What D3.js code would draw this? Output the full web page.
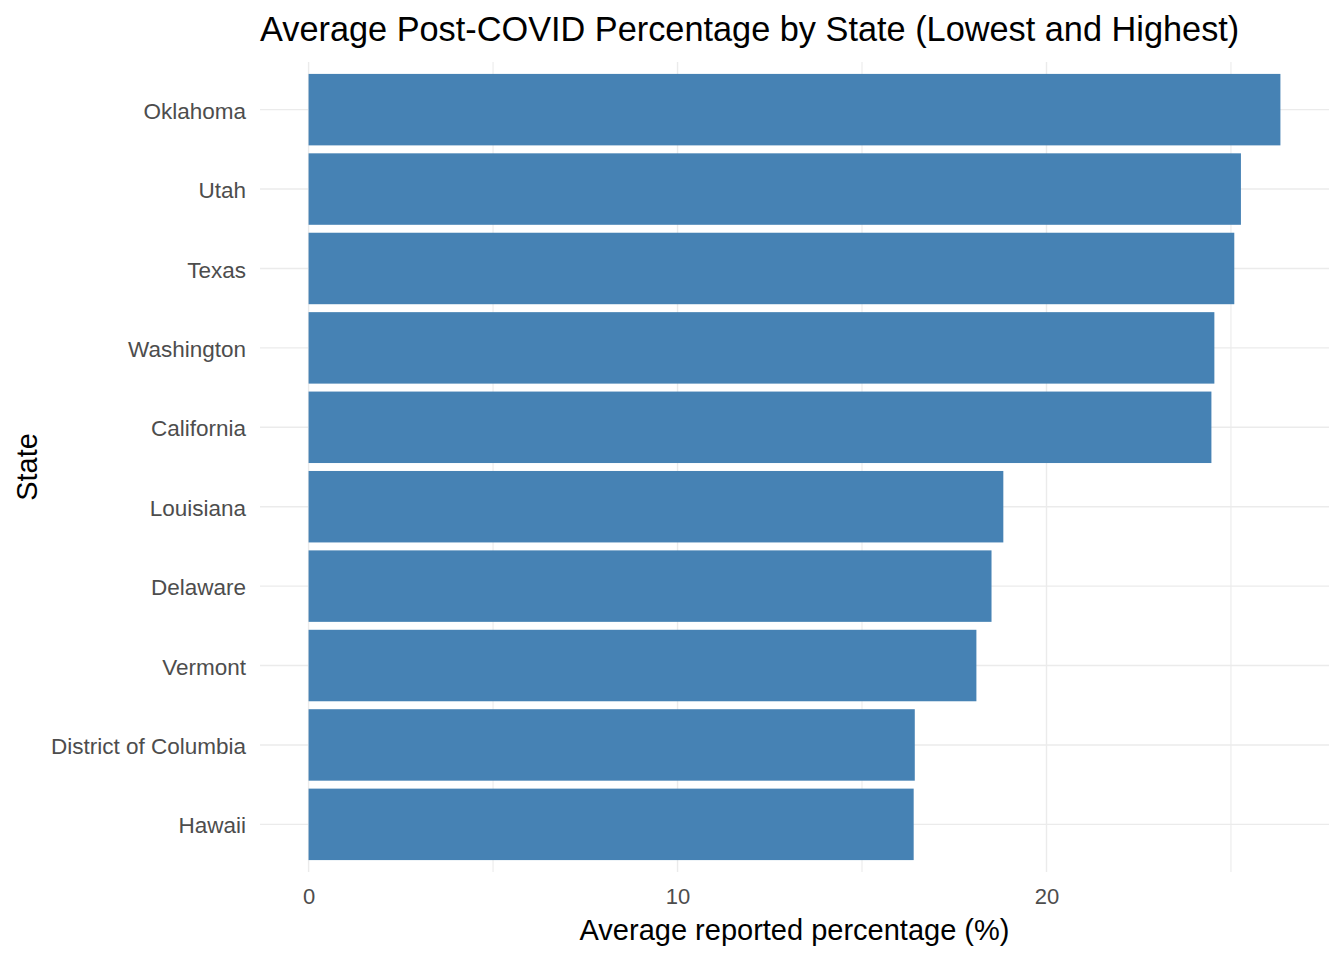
<!DOCTYPE html>
<html>
<head>
<meta charset="utf-8">
<script src="https://cdn.jsdelivr.net/npm/d3@7"></script>
<style>
  body { margin: 0; background: #fff; }
  text { font-family: "Liberation Sans", Arial, sans-serif; }
</style>
</head>
<body>
<svg id="chart"></svg>
<script>
// post-covid averages, highest first
var states = ["Oklahoma", "Utah", "Texas", "Washington", "California",
              "Louisiana", "Delaware", "Vermont", "District of Columbia", "Hawaii"];
var values = [26.34, 25.27, 25.09, 24.55, 24.47, 18.83, 18.51, 18.10, 16.43, 16.40];
var majorTicks = [0, 10, 20];
var minorTicks = [5, 15, 25];

var width = 1344, height = 960;
var margin = {top: 62, right: 15, bottom: 88, left: 260};

var chart = d3.select("#chart").attr("width", width).attr("height", height);

var xmax = d3.max(values);
var xscale = d3.scaleLinear()
    .domain([-0.05 * xmax, xmax * 1.05])
    .range([margin.left, width - margin.right]);

var n = states.length;
// discrete scale with 0.6 expansion on both sides, like ggplot
var step = (height - margin.top - margin.bottom) / (n - 1 + 1.2);
var yscale = d3.scalePoint()
    .domain(states)
    .range([margin.top + 0.6 * step, height - margin.bottom - 0.6 * step]);
var barH = step * 0.9;

var grid = chart.append("g");
grid.selectAll(".minor").data(minorTicks).enter().append("line")
    .attr("x1", d => xscale(d)).attr("x2", d => xscale(d))
    .attr("y1", margin.top).attr("y2", height - margin.bottom)
    .attr("stroke", "#ebebeb").attr("stroke-width", 1.1);
grid.selectAll(".major").data(majorTicks).enter().append("line")
    .attr("x1", d => xscale(d)).attr("x2", d => xscale(d))
    .attr("y1", margin.top).attr("y2", height - margin.bottom)
    .attr("stroke", "#ebebeb").attr("stroke-width", 1.4);
grid.selectAll(".hy").data(states).enter().append("line")
    .attr("x1", margin.left).attr("x2", width - margin.right)
    .attr("y1", d => yscale(d)).attr("y2", d => yscale(d))
    .attr("stroke", "#ebebeb").attr("stroke-width", 1.4);

chart.selectAll("rect").data(states).enter().append("rect")
    .attr("x", xscale(0))
    .attr("y", d => yscale(d) - barH / 2)
    .attr("width", (d, i) => xscale(values[i]) - xscale(0))
    .attr("height", barH)
    .attr("fill", "#4682b4");

var yaxis = chart.append("g")
    .attr("transform", "translate(" + margin.left + ",0)")
    .call(d3.axisLeft(yscale).tickSize(0).tickPadding(14));
yaxis.select(".domain").remove();
yaxis.selectAll("text").attr("fill", "#4d4d4d").style("font-size", "22.5px")
    .attr("dy", "0.38em");

var xaxis = chart.append("g")
    .attr("transform", "translate(0," + (height - margin.bottom) + ")")
    .call(d3.axisBottom(xscale).tickValues(majorTicks).tickSize(0).tickPadding(16));
xaxis.select(".domain").remove();
xaxis.selectAll("text").attr("fill", "#4d4d4d").style("font-size", "22px");

chart.append("text")
    .attr("x", margin.left).attr("y", 41)
    .style("font-size", "34.3px").attr("fill", "#000")
    .text("Average Post-COVID Percentage by State (Lowest and Highest)");

chart.append("text")
    .attr("x", (margin.left + width - margin.right) / 2).attr("y", 940)
    .attr("text-anchor", "middle")
    .style("font-size", "29px").attr("fill", "#000")
    .text("Average reported percentage (%)");

chart.append("text")
    .attr("transform", "translate(37," + ((margin.top + height - margin.bottom) / 2) + ") rotate(-90)")
    .attr("text-anchor", "middle")
    .style("font-size", "29px").attr("fill", "#000")
    .text("State");
</script>
</body>
</html>
